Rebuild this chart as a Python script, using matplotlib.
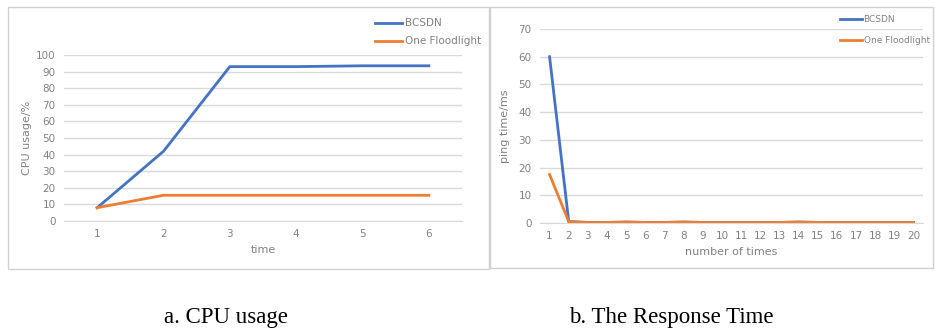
import numpy as np
import matplotlib
matplotlib.use("Agg")
import matplotlib.pyplot as plt
from matplotlib.patches import Rectangle

plt.rcParams['font.family'] = ['DejaVu Sans']

# data
cpu_time = [1, 2, 3, 4, 5, 6]
cpu_bcsdn = [8, 42, 93, 93, 93.5, 93.5]
cpu_flood = [8, 15.5, 15.5, 15.5, 15.5, 15.5]

ping_n = list(range(1, 21))
ping_bcsdn = [60, 0.5, 0.2, 0.2, 0.3, 0.2, 0.2, 0.3, 0.2, 0.2,
              0.2, 0.2, 0.2, 0.3, 0.2, 0.2, 0.2, 0.2, 0.2, 0.2]
ping_flood = [17.5, 0.5, 0.2, 0.2, 0.4, 0.2, 0.2, 0.4, 0.2, 0.2,
              0.2, 0.2, 0.2, 0.4, 0.2, 0.2, 0.2, 0.2, 0.2, 0.2]

BLUE = '#4472C4'
ORANGE = '#ED7D31'
GRID = '#d9d9d9'
TXT = '#808080'

W, H = 935, 329
fig = plt.figure(figsize=(W / 100, H / 100), dpi=100)


def px(l, t, r, b):
    return [l / W, 1 - b / H, (r - l) / W, (b - t) / H]


def style(ax, xs, ymax, ystep):
    ax.set_xlim(0.5, len(xs) + 0.5)
    ax.set_ylim(0, ymax)
    ax.set_xticks(xs)
    ax.set_yticks(np.arange(0, ymax + 1, ystep))
    ax.yaxis.grid(True, color=GRID, lw=1)
    ax.set_axisbelow(True)
    for s in ['top', 'right', 'left']:
        ax.spines[s].set_visible(False)
    ax.spines['bottom'].set_color(GRID)
    ax.tick_params(length=0, labelsize=7.5, labelcolor=TXT, pad=6)


# panel frames
for l, t, r, b in [(8, 7, 489, 269), (490, 7, 933, 268)]:
    fig.patches.append(Rectangle((l / W, 1 - b / H), (r - l) / W, (b - t) / H,
                                 transform=fig.transFigure, fill=False,
                                 edgecolor='#d0d0d0', lw=1))

# a. CPU usage
ax1 = fig.add_axes(px(64, 55, 462, 221))
ax1.plot(cpu_time, cpu_bcsdn, color=BLUE, lw=2, label='BCSDN')
ax1.plot(cpu_time, cpu_flood, color=ORANGE, lw=2, label='One Floodlight')
style(ax1, cpu_time, 100, 10)
ax1.set_xlabel('time', fontsize=8, color=TXT, labelpad=4)
ax1.set_ylabel('CPU usage/%', fontsize=8, color=TXT, labelpad=3)
ax1.legend(loc='upper left', bbox_to_anchor=(366 / W, 1 - 9 / H),
           bbox_transform=fig.transFigure, frameon=False, fontsize=7.5,
           handlelength=2.6, handletextpad=0.2, labelspacing=0.75,
           labelcolor=TXT)

# b. The Response Time
ax2 = fig.add_axes(px(540, 29, 923, 223))
ax2.plot(ping_n, ping_bcsdn, color=BLUE, lw=2, label='BCSDN')
ax2.plot(ping_n, ping_flood, color=ORANGE, lw=2, label='One Floodlight')
style(ax2, ping_n, 70, 10)
ax2.set_xlabel('number of times', fontsize=8, color=TXT, labelpad=4)
ax2.set_ylabel('ping time/ms', fontsize=8, color=TXT, labelpad=6)
ax2.legend(loc='upper left', bbox_to_anchor=(832 / W, 1 - 7 / H),
           bbox_transform=fig.transFigure, frameon=False, fontsize=6.5,
           handlelength=2.4, handletextpad=0.2, labelspacing=1.3,
           labelcolor=TXT)

# captions
fig.text(226 / W, 1 - 317 / H, 'a. CPU usage', ha='center', va='center',
         fontsize=16.5, family='Liberation Serif')
fig.text(671 / W, 1 - 317 / H, 'b. The Response Time', ha='center', va='center',
         fontsize=16.5, family='Liberation Serif')

fig.savefig('out.png', dpi=100)
